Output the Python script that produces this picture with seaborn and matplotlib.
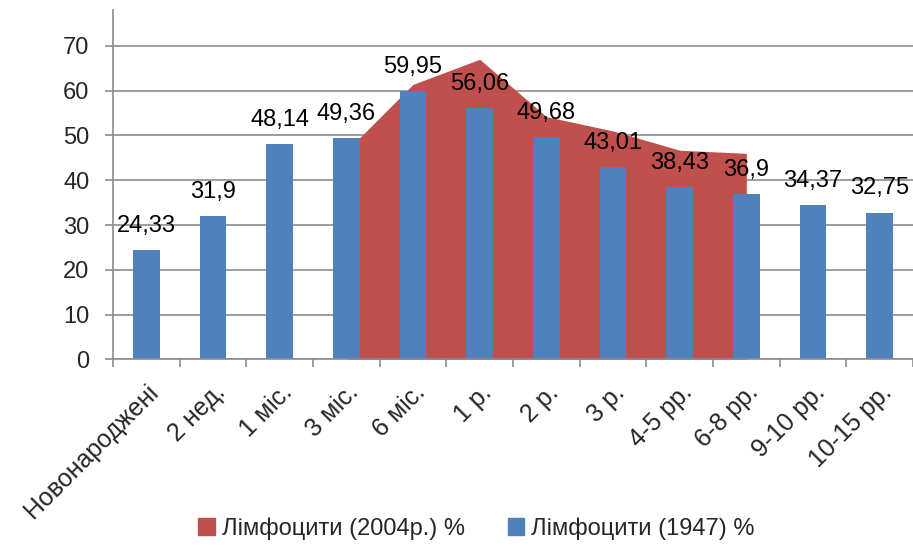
import numpy as np
import pandas as pd
import matplotlib
matplotlib.use('Agg')
import matplotlib.pyplot as plt
import seaborn as sns
from matplotlib.patches import Patch

# дані
categories = ['Новонароджені', '2 нед.', '1 міс.', '3 міс.', '6 міс.', '1 р.',
              '2 р.', '3 р.', '4-5 рр.', '6-8 рр.', '9-10 рр.', '10-15 рр.']
lymph_1947 = [24.33, 31.9, 48.14, 49.36, 59.95, 56.06, 49.68, 43.01, 38.43, 36.9, 34.37, 32.75]
area_categories = ['3 міс.', '6 міс.', '1 р.', '2 р.', '3 р.', '4-5 рр.', '6-8 рр.']
lymph_2004 = [46.5, 61.4, 67.0, 54.2, 51.0, 46.7, 46.0]
y_ticks = [0, 10, 20, 30, 40, 50, 60, 70]

name_2004 = 'Лімфоцити (2004р.) %'
name_1947 = 'Лімфоцити (1947) %'

blue = '#4F81BD'
red = '#C0504D'
gray = '#8C8C8C'

sns.set_style('white')
plt.rcParams['font.family'] = ['Liberation Sans', 'DejaVu Sans']

df = pd.DataFrame({'cat': categories, 'val': lymph_1947})

fig = plt.figure(figsize=(9.13, 5.47), dpi=100)
ax = fig.add_axes([0.1238, 0.343, 0.8762, 0.6387])

# площа 2004 р. (позаду стовпців)
area_x = [categories.index(c) for c in area_categories]
ax.fill_between(area_x, 0, lymph_2004, color=red, linewidth=0, zorder=1)

sns.barplot(data=df, x='cat', y='val', color=blue, saturation=1, width=0.4,
            order=categories, ax=ax, zorder=2, linewidth=0, edgecolor='none')

# підписи значень
for i, v in enumerate(lymph_1947):
    ax.annotate(str(v).replace('.', ','), (i, v), xytext=(0, 9.5),
                textcoords='offset points', ha='center', va='bottom',
                fontsize=17, color='black', zorder=3)

ax.set_xlim(-0.5, len(categories) - 0.5)
ax.set_ylim(0, 78)
ax.set_yticks(y_ticks)
ax.yaxis.grid(True, color=gray, linewidth=1.2, zorder=0)
ax.set_axisbelow(True)
ax.set_xlabel('')
ax.set_ylabel('')

for s in ['top', 'right']:
    ax.spines[s].set_visible(False)
for s in ['left', 'bottom']:
    ax.spines[s].set_color(gray)
    ax.spines[s].set_linewidth(1.2)

ax.tick_params(axis='y', length=6, width=1.2, color=gray, labelsize=17, pad=11, left=True)
ax.set_xticks(range(len(categories)))
ax.set_xticks(np.arange(-0.5, len(categories), 1), minor=True)
ax.tick_params(axis='x', which='major', length=0, pad=15)
ax.tick_params(axis='x', which='minor', length=6, width=1.2, color=gray, bottom=True)
ax.set_xticklabels(categories, rotation=45, ha='right', rotation_mode='anchor',
                   fontsize=18)

handles = [Patch(color=red, label=name_2004), Patch(color=blue, label=name_1947)]
fig.legend(handles=handles, loc='center', bbox_to_anchor=(0.522, 0.034), ncol=2,
           frameon=False, fontsize=17, handlelength=0.7, handleheight=0.7,
           handletextpad=0.3, columnspacing=1.8)

fig.savefig('out.png', dpi=100)
